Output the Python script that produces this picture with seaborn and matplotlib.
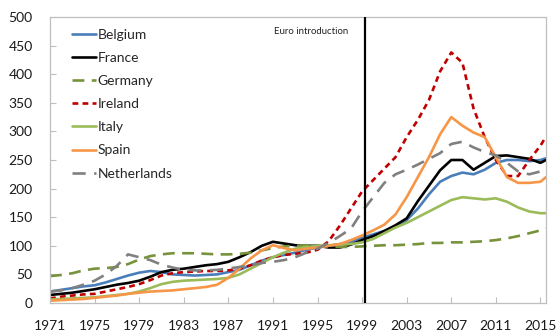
import matplotlib
matplotlib.use("Agg")
import matplotlib.pyplot as plt
import seaborn as sns
import pandas as pd

# House price indices (1995 = 100), annual readings
years = list(range(1971, 2016)) + [2015.5]

belgium = [20, 23, 26, 29, 31, 36, 42, 48, 53, 56, 54, 50, 49, 48, 49, 50, 54, 58, 66, 74,
           80, 84, 88, 93, 97, 100, 103, 107, 114, 120, 126, 133, 145, 165, 190, 212, 222, 228,
           225, 233, 245, 250, 250, 248, 250, 253]
france = [14, 16, 18, 21, 24, 28, 32, 35, 39, 46, 54, 58, 60, 63, 66, 68, 72, 80, 89, 100,
          107, 104, 101, 100, 100, 97, 97, 102, 110, 117, 126, 136, 148, 178, 205, 232, 250, 250,
          233, 245, 257, 258, 255, 252, 245, 250]
germany = [47, 49, 52, 57, 60, 61, 63, 68, 76, 82, 85, 87, 87, 87, 86, 85, 85, 86, 88, 92,
           96, 99, 100, 101, 100, 99, 98, 98, 99, 100, 101, 101, 102, 103, 105, 105, 106, 106,
           107, 108, 110, 113, 117, 122, 127, 130]
ireland = [8, 11, 13, 15, 16, 20, 24, 28, 33, 40, 48, 52, 54, 55, 56, 56, 57, 60, 66, 74,
           80, 84, 86, 88, 93, 108, 135, 165, 195, 215, 235, 255, 290, 320, 355, 405, 438, 420,
           340, 290, 250, 222, 222, 250, 275, 291]
italy = [6, 7, 8, 9, 10, 12, 14, 16, 20, 26, 33, 37, 39, 40, 41, 42, 44, 50, 60, 70,
         80, 88, 95, 98, 100, 101, 102, 103, 106, 112, 122, 132, 140, 150, 160, 170, 180, 185,
         183, 181, 183, 177, 167, 160, 157, 157]
spain = [4, 5, 6, 7, 9, 11, 13, 16, 18, 20, 21, 22, 24, 26, 28, 32, 44, 60, 78, 92,
         101, 96, 92, 95, 97, 100, 103, 110, 118, 127, 137, 155, 185, 220, 255, 295, 325, 310,
         298, 290, 255, 220, 210, 210, 212, 220]
netherlands = [20, 22, 26, 32, 39, 50, 65, 85, 80, 75, 67, 62, 58, 57, 57, 58, 60, 63, 66, 70,
               72, 75, 80, 88, 95, 105, 117, 130, 160, 185, 210, 225, 233, 242, 252, 262, 278, 282,
               272, 264, 258, 245, 230, 225, 230, 233]

countries = ["Belgium", "France", "Germany", "Ireland", "Italy", "Spain", "Netherlands"]
series = [belgium, france, germany, ireland, italy, spain, netherlands]
x_ticks = list(range(1971, 2016, 4))
y_ticks = [0, 50, 100, 150, 200, 250, 300, 350, 400, 450, 500]
euro_year = 1999.25

df = pd.concat(
    [pd.DataFrame({"year": years, "index": vals, "country": name})
     for name, vals in zip(countries, series)],
    ignore_index=True,
)

sns.set_theme(style="white")
plt.rcParams["font.family"] = ["Lato", "DejaVu Sans"]

styles = {
    "Belgium": dict(color="#4A7EBB", dashes=None),
    "France": dict(color="#000000", dashes=None),
    "Germany": dict(color="#77933C", dashes=(4.5, 2.8)),
    "Ireland": dict(color="#C00000", dashes=(2.2, 1.6)),
    "Italy": dict(color="#9BBB59", dashes=None),
    "Spain": dict(color="#F79646", dashes=None),
    "Netherlands": dict(color="#808080", dashes=(5.0, 3.2)),
}

fig = plt.figure(figsize=(5.57, 3.34), dpi=100)
ax = fig.add_axes([50 / 557, 31 / 334, 496 / 557, 286 / 334])

for name in countries:
    sub = df[df["country"] == name]
    sns.lineplot(data=sub, x="year", y="index", ax=ax, label=name,
                 color=styles[name]["color"], linewidth=1.9)
    d = styles[name]["dashes"]
    if d is not None:
        ax.get_lines()[-1].set_dashes(d)

ax.axvline(euro_year, color="black", linewidth=1.6, zorder=5)
ax.text(euro_year - 1.45, 475, "Euro introduction", ha="right", va="center",
        fontsize=6.9, color="#222222")

ax.set_xlim(1971, 2015.5)
ax.set_ylim(0, 500)
ax.set_xticks(x_ticks)
ax.set_yticks(y_ticks)
ax.set_xlabel("")
ax.set_ylabel("")
ax.tick_params(axis="x", direction="in", length=4, width=0.8, color="#BFBFBF",
               pad=12, labelsize=10, labelcolor="#1a1a1a")
ax.tick_params(axis="y", direction="in", length=4, width=0.8, color="#BFBFBF",
               pad=12.5, labelsize=10, labelcolor="#1a1a1a")
ax.tick_params(bottom=True, left=True)
for sp in ax.spines.values():
    sp.set_color("#BFBFBF")
    sp.set_linewidth(0.9)
    sp.set_visible(True)

ax.legend(loc="upper left", bbox_to_anchor=(0.033, 0.978), frameon=False,
          fontsize=10, handlelength=1.75, handletextpad=0.1,
          labelspacing=0.8, borderaxespad=0)

fig.savefig("out.png", dpi=100)
